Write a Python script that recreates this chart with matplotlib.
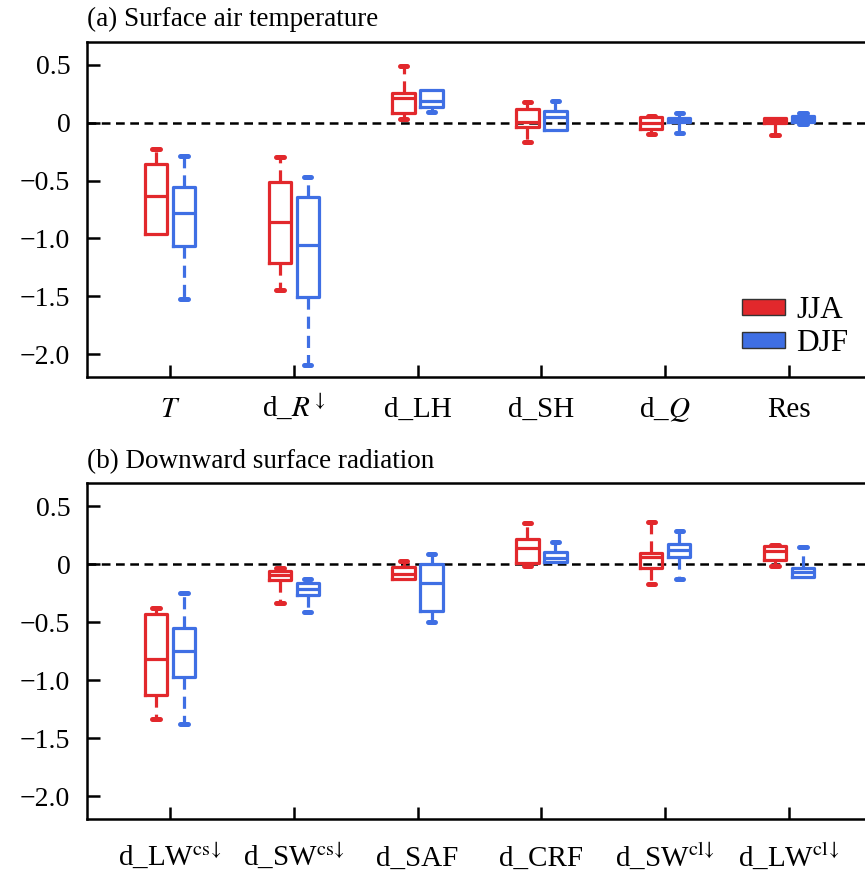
import matplotlib
matplotlib.use('Agg')
import matplotlib.pyplot as plt
import matplotlib.patches as mpatches

plt.rcParams['font.family'] = ['Liberation Serif', 'DejaVu Serif']
plt.rcParams['mathtext.fontset'] = 'stix'
plt.rcParams['axes.unicode_minus'] = True

RED = '#e2282c'
BLUE = '#3f6fe4'

# ===== (a) Surface air temperature =====
labels_a = ['$T$', 'd_$R^{\\downarrow}$', 'd_LH', 'd_SH', 'd_$Q$', 'Res']
# [whislo, q1, med, q3, whishi]
jja_a = [
    [-0.96, -0.96, -0.63, -0.355, -0.23],
    [-1.446, -1.21, -0.854, -0.51, -0.30],
    [0.03, 0.084, 0.215, 0.255, 0.49],
    [-0.17, -0.04, 0.01, 0.12, 0.18],
    [-0.095, -0.055, -0.005, 0.045, 0.06],
    [-0.11, 0.0, 0.026, 0.043, 0.043],
]
djf_a = [
    [-1.52, -1.065, -0.78, -0.557, -0.286],
    [-2.095, -1.51, -1.056, -0.645, -0.47],
    [0.09, 0.136, 0.19, 0.286, 0.286],
    [-0.06, -0.06, 0.046, 0.10, 0.185],
    [-0.09, 0.003, 0.017, 0.04, 0.085],
    [-0.01, 0.01, 0.035, 0.055, 0.08],
]

# ===== (b) Downward surface radiation =====
labels_b = ['d_LW$^{\\mathrm{cs}\\!\\downarrow}$', 'd_SW$^{\\mathrm{cs}\\!\\downarrow}$', 'd_SAF',
            'd_CRF', 'd_SW$^{\\mathrm{cl}\\!\\downarrow}$', 'd_LW$^{\\mathrm{cl}\\!\\downarrow}$']
jja_b = [
    [-1.336, -1.13, -0.82, -0.43, -0.375],
    [-0.337, -0.136, -0.095, -0.055, -0.035],
    [-0.124, -0.124, -0.084, -0.026, 0.026],
    [-0.015, 0.014, 0.138, 0.218, 0.354],
    [-0.17, -0.035, 0.06, 0.095, 0.363],
    [-0.012, 0.037, 0.117, 0.16, 0.165],
]
djf_b = [
    [-1.38, -0.97, -0.746, -0.553, -0.245],
    [-0.415, -0.265, -0.213, -0.164, -0.13],
    [-0.495, -0.40, -0.164, 0.0, 0.086],
    [0.02, 0.02, 0.057, 0.104, 0.19],
    [-0.13, 0.066, 0.123, 0.175, 0.29],
    [-0.112, -0.112, -0.064, -0.03, 0.152],
]

yticks = [0.5, 0, -0.5, -1.0, -1.5, -2.0]
yticklabels = ['0.5', '0', '\u22120.5', '\u22121.0', '\u22121.5', '\u22122.0']


def to_stats(rows):
    return [dict(whislo=r[0], q1=r[1], med=r[2], q3=r[3], whishi=r[4]) for r in rows]


def draw_boxes(ax, rows, pos, color):
    lw = 2.3
    bp = ax.bxp(to_stats(rows), positions=pos, widths=0.18, capwidths=0.06,
                showfliers=False, patch_artist=False,
                boxprops=dict(color=color, linewidth=lw),
                medianprops=dict(color=color, linewidth=lw),
                whiskerprops=dict(color=color, linewidth=lw, linestyle=(0, (3.8, 2.2))),
                capprops=dict(color=color, linewidth=3.6, solid_capstyle='round'),
                manage_ticks=False)
    # no cap when the whisker has zero length
    for i, r in enumerate(rows):
        if r[0] == r[1]:
            bp['caps'][2 * i].set_visible(False)
        if r[4] == r[3]:
            bp['caps'][2 * i + 1].set_visible(False)


def setup_panel(ax, rows_r, rows_b, labels, title, xpad):
    x = list(range(1, len(labels) + 1))
    ax.axhline(0, color='black', lw=1.8, ls=(0, (3.5, 2.2)), zorder=1)
    draw_boxes(ax, rows_r, [i - 0.113 for i in x], RED)
    draw_boxes(ax, rows_b, [i + 0.113 for i in x], BLUE)
    ax.set_xlim(0.33, 6.67)
    ax.set_ylim(-2.2, 0.7)
    ax.set_xticks(x)
    ax.set_xticklabels(labels, fontsize=21, va='baseline')
    ax.set_yticks(yticks)
    ax.set_yticklabels(yticklabels, fontsize=20)
    ax.tick_params(direction='in', length=9, width=1.8, top=False, right=False)
    ax.tick_params(axis='x', pad=xpad)
    ax.tick_params(axis='y', pad=12)
    for s in ax.spines.values():
        s.set_linewidth(1.8)
    ax.set_title(title, loc='left', fontsize=19.5, pad=11)


fig = plt.figure(figsize=(8.65, 8.72), dpi=100)
ax1 = fig.add_axes([0.1006, 0.5673, 0.9075, 0.3849])
ax2 = fig.add_axes([0.1006, 0.0604, 0.9075, 0.3854])

setup_panel(ax1, jja_a, djf_a, labels_a, '(a) Surface air temperature', 28.8)
setup_panel(ax2, jja_b, djf_b, labels_b, '(b) Downward surface radiation', 33.6)

handles = [mpatches.Patch(facecolor=RED, edgecolor='#333333', linewidth=1.0, label='JJA'),
           mpatches.Patch(facecolor=BLUE, edgecolor='#333333', linewidth=1.0, label='DJF')]
ax1.legend(handles=handles, loc='lower left', bbox_to_anchor=(0.834, 0.058),
           frameon=False, fontsize=22.5, handlelength=1.4, handleheight=0.4,
           handletextpad=0.35, labelspacing=0.12, borderpad=0, borderaxespad=0)

plt.savefig('out.png', dpi=100, facecolor='white')
plt.close()
